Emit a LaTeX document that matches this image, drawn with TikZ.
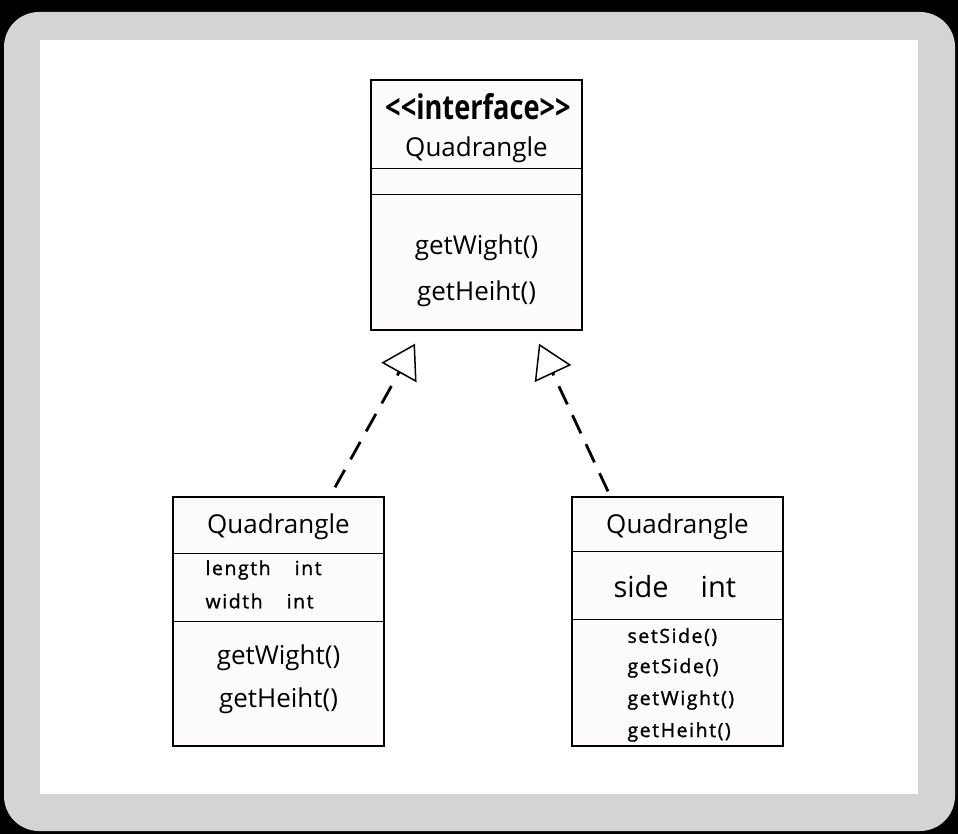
\documentclass[tikz,border=0pt]{standalone}
\usepackage{fontspec}
\setmainfont{Open Sans}
\newfontfamily\condbold[FakeStretch=0.8]{Open Sans Bold}
\newfontfamily\spaced[LetterSpace=8, FakeBold=1.2]{Open Sans}
\usetikzlibrary{arrows.meta}
\definecolor{rahmen}{RGB}{212,212,212}
\definecolor{boxfill}{RGB}{253,251,251}

\begin{document}
\begin{tikzpicture}[x=1pt, y=-1pt,
    umlbox/.style={draw, line width=1.4pt, fill=boxfill, minimum width=211pt, minimum height=249pt, inner sep=0pt},
    divider/.style={line width=1.4pt},
    big/.style={font=\fontsize{26}{30}\selectfont},
    small/.style={font=\spaced\fontsize{19.5}{22}\selectfont, anchor=west},
    realize/.style={line width=2.8pt, dash pattern=on 20pt off 12pt, -{Triangle[open, fill=white, length=33pt, width=40pt, line width=1.5pt]}}]
        \fill[black] (0,0) rectangle (958,834);
        \fill[rahmen, rounded corners=35pt] (4,12) rectangle (955,831);
        \fill[white] (40,40) rectangle (918,794);

        \node[umlbox, minimum height=250pt] (iface) at (476.5,205) {};
        \node[umlbox] (rect) at (278.5,621.5) {};
        \node[umlbox] (square) at (677.5,621.5) {};

        \draw[divider] ([yshift=-89pt]iface.north west) -- ([yshift=-89pt]iface.north east);
        \draw[divider] ([yshift=-115pt]iface.north west) -- ([yshift=-115pt]iface.north east);
        \draw[divider] ([yshift=-57pt]rect.north west) -- ([yshift=-57pt]rect.north east);
        \draw[divider] ([yshift=-125pt]rect.north west) -- ([yshift=-125pt]rect.north east);
        \draw[divider] ([yshift=-55pt]square.north west) -- ([yshift=-55pt]square.north east);
        \draw[divider] ([yshift=-123pt]square.north west) -- ([yshift=-123pt]square.north east);

        \node[font=\condbold\fontsize{34}{37}\selectfont] (stereo) at (478,107) {<<interface>>};
        \node[big] (ifacename) at (476.5,150) {Quadrangle};
        \node[big] (ifacew) at (476.5,248) {getWight()};
        \node[big] (ifaceh) at (476.5,294) {getHeiht()};

        \node[big] (rectname) at (278.5,527) {Quadrangle};
        \node[small] (rectlen) at (202,570) {length\hspace{24pt}int};
        \node[small] (rectwid) at (202,601) {width\hspace{24pt}int};
        \node[big] (rectw) at (278.5,658) {getWight()};
        \node[big] (recth) at (278.5,701) {getHeiht()};

        \node[big] (squarename) at (677.5,527) {Quadrangle};
        \node[font=\fontsize{29}{32}\selectfont, anchor=west] (squareside) at (610,587) {side\hspace{32pt}int};
        \node[small] (squareset) at (624,637) {setSide()};
        \node[small] (squareget) at (624,668) {getSide()};
        \node[small] (squarew) at (624,700) {getWight()};
        \node[small] (squareh) at (624,732) {getHeiht()};

        \draw[realize] ([xshift=56.5pt, yshift=9pt]rect.north) -- ([xshift=-61.5pt, yshift=-13pt]iface.south);
        \draw[realize] ([xshift=-69.5pt, yshift=5pt]square.north) -- ([xshift=62.5pt, yshift=-13pt]iface.south);
    \end{tikzpicture}
\end{document}
